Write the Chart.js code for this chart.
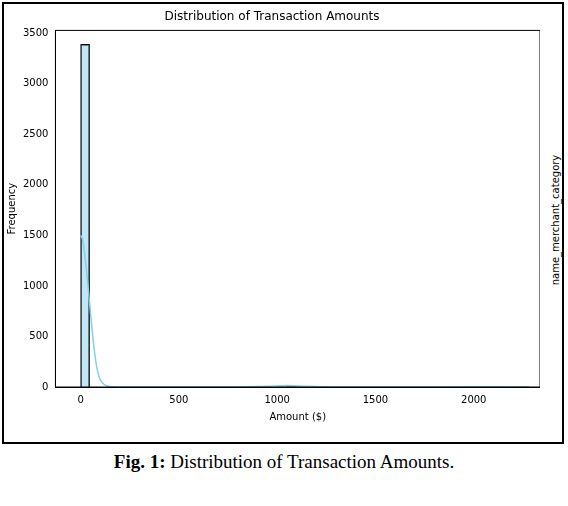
<!DOCTYPE html>
<html>
<head>
<meta charset="utf-8">
<script src="https://cdn.jsdelivr.net/npm/chart.js@4"></script>
<style>
  body { margin: 0; background: #fff; width: 568px; height: 506px; position: relative; overflow: hidden; }
  #frame { position: absolute; left: 2px; top: 2px; width: 558px; height: 438px; border: 2px solid #000; }
  #wrap { position: absolute; left: 0; top: 0; width: 536px; height: 438px; }
  #side { position: absolute; left: 555px; top: 220px; transform: translate(-50%,-50%) rotate(-90deg);
          font: 10px "DejaVu Sans"; white-space: nowrap; color: #000; }
  #cap { position: absolute; top: 451px; width: 568px; text-align: center; font: 19px "Liberation Serif"; }
</style>
</head>
<body>
<div id="frame"><div id="wrap"><canvas id="c"></canvas></div></div>
<div id="side">name_merchant_category</div>
<div id="cap"><b>Fig. 1:</b> Distribution of Transaction Amounts.</div>
<script>
/* ── Datos ── */
const BIN_WIDTH = 45.6;
const BIN_COUNTS = [3390, 0, 0, 0, 0, 0, 0, 0, 0, 0, 0, 0, 0, 0, 0, 0, 0, 0, 0, 0, 0, 0, 2, 3, 2,
                    0, 0, 0, 0, 0, 0, 0, 0, 0, 0, 0, 0, 0, 0, 0, 0, 0, 0, 0, 1, 0, 0, 0, 0, 1];
const KDE_X = [0, 10, 20, 30, 40, 50, 60, 70, 80, 90, 100, 120, 140, 160, 200, 400, 800, 950, 1050, 1150, 1300, 1600, 2000, 2250];
const KDE_Y = [1500, 1460, 1320, 1150, 950, 740, 540, 360, 220, 130, 70, 25, 8, 2, 0, 0, 0, 8, 14, 8, 1, 0, 2, 1];
const X_TICKS = [0, 500, 1000, 1500, 2000];
const Y_TICKS = [0, 500, 1000, 1500, 2000, 2500, 3000, 3500];

const BAR = 'rgba(135,206,235,0.5)';
const LINE = '#87CEEB';
const FONT = { family: 'DejaVu Sans', size: 10 };

const bars = BIN_COUNTS.map((c, i) => ({ x: i * BIN_WIDTH + BIN_WIDTH / 2, y: c }));
const kde = KDE_X.map((x, i) => ({ x, y: KDE_Y[i] }));

new Chart(document.getElementById('c'), {
  type: 'bar',
  data: {
    datasets: [
      { type: 'line', data: kde, borderColor: LINE, borderWidth: 1.5, pointRadius: 0, tension: 0.4, order: 0 },
      { data: bars, backgroundColor: BAR, borderColor: '#000', borderWidth: 1,
        barPercentage: 1, categoryPercentage: 1, grouped: false, order: 1 },
    ],
  },
  options: {
    responsive: true,
    maintainAspectRatio: false,
    animation: false,
    layout: { padding: { top: 4, right: 0, bottom: 17, left: 0 } },
    plugins: {
      legend: { display: false },
      tooltip: { enabled: false },
      title: { display: true, text: 'Distribution of Transaction Amounts', color: '#000',
               font: { family: 'DejaVu Sans', size: 12, weight: 'normal' }, padding: { top: 2, bottom: 6 } },
    },
    scales: {
      x: {
        type: 'linear', min: -128, max: 2337, offset: false,
        afterBuildTicks: s => { s.ticks = X_TICKS.map(v => ({ value: v })); },
        ticks: { color: '#000', font: FONT, maxRotation: 0, callback: v => String(v) },
        grid: { display: false, tickLength: 4, tickColor: '#000' },
        border: { color: '#000' },
        title: { display: true, text: 'Amount ($)', color: '#000', font: FONT, padding: 2 },
      },
      y: {
        min: 0, max: 3528,
        afterBuildTicks: s => { s.ticks = Y_TICKS.map(v => ({ value: v })); },
        ticks: { color: '#000', font: FONT, callback: v => String(v) },
        grid: { display: false, tickLength: 4, tickColor: '#000' },
        border: { color: '#000' },
        title: { display: true, text: 'Frequency', color: '#000', font: FONT, padding: 2 },
      },
    },
  },
  plugins: [{
    id: 'box',
    afterDraw(ch) {
      const a = ch.chartArea, g = ch.ctx;
      g.save(); g.strokeStyle = '#000'; g.lineWidth = 1;
      g.strokeRect(a.left, a.top, a.right - a.left, a.bottom - a.top);
      g.restore();
    },
  }],
});
</script>
</body>
</html>
